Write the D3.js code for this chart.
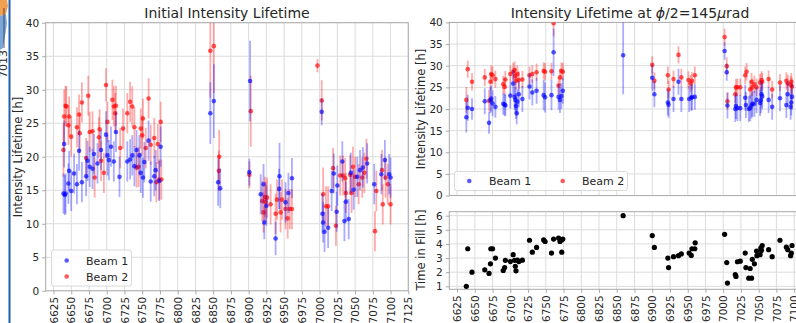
<!DOCTYPE html>
<html><head><meta charset="utf-8">
<script src="https://cdn.jsdelivr.net/npm/d3@7"></script>
<style>
html,body{margin:0;padding:0;background:#fff;overflow:hidden;}
text{font-family:"DejaVu Sans",sans-serif;fill:#262626;}
</style></head><body>
<svg id="c" width="796" height="323"></svg>
<script>
// ---- data: [fill, value, error] ----
const leftBeam1 = [[6639,14.5,3],[6640,21.9,3.5],[6641,14.3,3],[6642,14.5,3],[6646,16.0,3],[6647,17.9,3],[6650,14.9,3],[6654,17.5,3],[6658,15.9,3],[6661,20.9,3],[6665,16.2,3],[6671,17.1,3],[6673,19.4,3],[6676,18.5,3],[6680,18.2,3],[6682,20.4,3],[6687,19.0,3],[6692,21.0,3],[6699,23.3,3.5],[6701,20.2,3],[6703,19.5,3],[6706,21.5,3],[6710,19.3,3],[6713,23.7,3],[6718,17.0,3],[6729,19.3,3],[6733,19.6,3],[6736,20.2,3],[6739,18.6,3],[6742,21.0,3],[6746,20.2,3],[6748,17.6,3],[6751,16.9,3],[6753,19.2,3],[6759,22.4,3],[6762,16.3,3],[6767,17.1,3],[6769,18.0,3],[6774,16.4,3],[6776,21.5,3],
[6846,26.5,4.6],[6851,28.3,5.5],[6857,16.2,3.5],[6860,15.3,3],[6901,17.7,2],[6902,31.3,6],[6917,14.4,3],[6921,15.9,3],[6922,10.2,2.5],[6925,12.7,3],[6938,7.8,2.5],[6943,15.2,3],[6943.5,17.1,5],[6952,13.2,3],[6956,14.6,3],[6961,16.8,3],
[7003,26.7,2],[7004,11.5,3],[7005,10.2,3],[7007,8.8,3],[7012,9.4,3],[7017,14.9,3],[7020,17.5,3],[7024,11.8,3],[7025,15.7,3],[7032,19.3,3],[7035,10.4,3],[7037,13.3,3],[7041,10.7,3],[7044,17.6,3],[7048,15.1,3],[7053,17.0,3],[7057,18.0,3],[7061,18.4,3],[7067,19.0,3],[7077,15.9,3],[7087,17.4,3],[7092,19.5,3],[7098,17.4,3],[7100,16.9,3]];
const leftBeam2 = [[6639,21.0,4],[6640,26.0,4],[6642,27.6,3],[6643,27.5,3],[6646,24.7,3],[6647,26.0,3],[6650,23.0,3],[6658,24.4,3],[6661,26.3,3],[6662,23.5,3],[6665,28.1,3],[6671,19.8,3],[6674,29.1,3],[6676,23.7,3],[6680,23.8,3],[6683,16.9,3],[6689,22.9,3],[6690,24.1,3],[6692,19.4,3],[6696,17.6,3],[6699,30.7,2.5],[6701,25.2,3],[6708,28.5,3],[6710,27.5,3],[6712,26.5,3],[6713,27.6,3],[6719,21.3,3],[6723,24.2,3],[6729,26.5,3],[6733,28.2,3],[6736,27.5,3],[6739,24.4,3],[6742,18.4,3],[6745,18.5,3],[6748,24.2,3],[6750,23.2,3],[6751,25.7,3],[6755,21.3,3],[6759,28.7,3],[6762,21.8,3],[6767,22.8,3],[6770,16.2,3],[6772,21.9,3],[6774,16.6,3],[6776,25.2,3],[6777,16.6,3],
[6846,35.8,7],[6851,36.5,7],[6858,17.9,3],[6858.5,20.0,4],[6901,17.3,2],[6903,26.8,5.3],[6919,13.4,3],[6921,11.7,3],[6923,14.0,3],[6924,13.3,3],[6926,13.9,3],[6931,12.9,3],[6938,11.5,3],[6940,13.6,3],[6945,11.7,3],[6947,13.6,3],[6952,12.2,3],[6955,10.8,3],[6958,12.2,3],[6961,12.2,3],
[6997,33.6,1],[7003,28.4,3],[7005,14.4,4],[7009,12.6,3],[7012,12.6,3],[7019,18.3,3],[7023,9.7,3],[7029,17.2,3],[7033,17.2,3],[7036,16.8,3],[7037,14.6,3],[7043,17.3,3],[7045,14.6,3],[7047,18.5,3],[7050,17.0,3],[7055,15.9,3],[7060,16.9,3],[7063,17.6,3],[7066,19.7,3],[7078,8.9,3],[7080,14.9,3],[7088,18.0,3],[7089,12.9,3],[7093,16.9,3],[7096,15.9,3],[7100,12.9,3]];
const rightBeam1 = [[6638,18.1,3.5],[6640,20.3,3],[6646,20.0,2.5],[6664,21.8,3],[6670,16.8,2.5],[6672,22.0,3],[6673,22.4,3],[6675,21.3,3],[6679,20.5,2.5],[6690,21.2,2.5],[6692,21.0,2.5],[6693,20.8,2.5],[6700,23.1,3],[6704,25.9,3],[6706,22.8,3],[6707,22.1,3],[6708,20.7,3],[6709,19.0,2.5],[6710,21.7,3],[6712,23.4,3],[6717,22.3,3],[6727,25.2,3],[6731,23.8,3],[6737,24.2,3],[6747,23.2,3.5],[6749,22.7,3.5],[6758,23.2,3.5],[6761,33.1,5.5],[6768,22.8,3],[6770,22.1,3],[6772,23.0,3],[6774,24.2,3],
[6859,32.4,9],[6900,27.2,3],[6903,23.4,3],[6922,21.5,3],[6923,21.0,3],[6930,22.3,3],[6937,26.3,3],[6941,22.3,3],[6952,22.3,3],[6955,22.6,3],[6956,22.7,3],[6960,22.8,3],
[7002,33.4,2],[7005,28.5,2],[7006,20.8,3],[7017,20.0,3],[7018,20.7,3],[7020,20.2,3],[7024,20.2,3],[7031,22.6,3],[7032,20.9,3],[7036,20.0,3],[7038,20.2,3],[7040,20.8,3],[7041,21.2,3],[7044,21.2,3],[7047,22.1,3],[7052,21.4,3],[7053,22.0,3],[7054,23.4,3],[7055,22.9,3],[7064,22.1,3],[7069,20.5,3],[7080,22.5,3],[7089,20.9,3],[7091,23.4,3],[7095,20.5,3],[7096,21.5,3],[7097,22.8,3]];
const rightBeam2 = [[6638,22.1,3],[6640,29.2,2],[6646,26.3,2],[6664,27.3,2],[6670,21.9,2.5],[6672,26.3,2],[6673,28.1,2],[6675,27.8,2],[6679,26.9,2],[6690,25.7,2],[6692,25.1,2],[6693,26.8,2],[6700,28.1,2],[6704,28.6,2],[6706,29.0,2],[6707,27.6,2],[6708,26.5,2],[6710,28.1,2],[6712,26.7,2],[6717,26.8,2],[6727,27.8,2],[6731,28.1,2],[6737,28.5,2],[6747,28.8,2],[6749,28.6,2],[6758,28.7,2],[6761,39.8,3],[6768,25.4,2],[6770,27.3,2],[6772,28.8,2],[6774,28.6,2],
[6900,30.2,2],[6903,26.5,2],[6922,27.8,2],[6923,24.5,2],[6930,26.9,2],[6937,32.5,2],[6941,27.3,2],[6951,26.7,2],[6954,25.9,2],[6956,26.5,2],[6960,27.8,2],
[7002,36.6,2],[7005,29.9,2],[7006,21.8,2],[7017,23.4,2],[7018,25.0,2],[7020,25.0,2],[7024,25.0,2],[7031,27.8,2],[7033,28.6,2],[7038,24.5,2],[7040,26.3,2],[7041,25.0,2],[7044,25.7,2],[7047,25.0,2],[7052,26.1,2],[7054,26.7,2],[7055,26.3,2],[7064,26.9,2],[7069,24.5,2],[7080,26.1,2],[7089,26.5,2],[7091,25.9,2],[7095,25.6,2],[7096,26.3,2],[7097,25.2,2]];
// [fill, hours]
const timeInFill = [[6638,1.0],[6640,3.66],[6646,2.0],[6664,2.17],[6670,1.91],[6672,2.59],[6672.5,3.66],[6675,3.66],[6679,3.0],[6690,2.12],[6692,2.33],[6693,2.84],[6700,2.75],[6704,3.24],[6706,2.84],[6707,2.42],[6708,2.1],[6710,2.85],[6712,2.75],[6717,2.85],[6727,4.26],[6731,3.42],[6737,3.75],[6747,4.28],[6749,4.17],[6758,3.35],[6761,4.34],[6768,4.42],[6770,4.17],[6772,4.28],[6774,4.34],[6772.5,3.42],
[6859,6.0],[6900,4.59],[6903,3.75],[6922,3.0],[6923,2.33],[6930,3.1],[6937,3.17],[6941,3.29],[6952,3.35],[6955,3.19],[6956,3.66],[6960,3.66],[6960.5,4.08],
[7002,4.68],[7005,2.68],[7006,1.23],[7017,1.83],[7018,1.7],[7020,2.74],[7024,2.78],[7031,3.35],[7032,2.33],[7038,2.26],[7036,1.58],[7040,1.58],[7041,2.91],[7044,2.59],[7047,3.5],[7047.5,3.17],[7052,3.24],[7053,3.7],[7054,3.54],[7055,3.89],[7064,3.59],[7069,3.1],[7080,4.26],[7089,3.77],[7091,3.59],[7095,3.17],[7096,3.35],[7097,3.89]];
const xTicks = d3.range(6625, 7126, 25);
const yTicksLife = [0,5,10,15,20,25,30,35,40];
const yTicksTime = [1,2,3,4,5,6];
const titleLeft = "Initial Intensity Lifetime";
const legendLabels = ["Beam 1","Beam 2"];

// ---- drawing ----
const svg = d3.select("#c");
const C1 = "#0000ff", C2 = "#ff0000";
const GRID = "#dcdcdc", FRAME = "#a8a8a8";

// slide fragments at far left
svg.append("path").attr("d","M0,0 L7,0 L8,6 L6,14 L0,16 Z").attr("fill","#f0a050");
svg.append("path").attr("d","M0,16 L6,14 L7,24 L5,36 L3,48 L0,50 Z").attr("fill","#7aa6dc");
svg.append("line").attr("x1",4).attr("x2",4).attr("y1",8).attr("y2",48).attr("stroke","#333").attr("stroke-width",0.8);
svg.append("text").attr("transform","translate(7,78) rotate(-90)").attr("font-size",11).text("7013");
svg.append("line").attr("x1",9.5).attr("x2",9.5).attr("y1",0).attr("y2",323).attr("stroke","#1f5fb0").attr("stroke-width",2);

const xDom = [6614, 7125];
function makeAxes(id, x0, x1, yTop, yBot, yDom, yTicks, showX) {
  const x = d3.scaleLinear().domain(xDom).range([x0, x1]);
  const y = d3.scaleLinear().domain(yDom).range([yBot, yTop]);
  const g = svg.append("g");
  svg.append("clipPath").attr("id", id).append("rect")
    .attr("x", x0).attr("y", yTop).attr("width", x1 - x0).attr("height", yBot - yTop);
  const gg = g.append("g").attr("clip-path", `url(#${id})`);
  gg.selectAll(".gx").data(xTicks).join("line")
    .attr("x1", d => x(d)).attr("x2", d => x(d)).attr("y1", yTop).attr("y2", yBot)
    .attr("stroke", GRID).attr("stroke-width", 1);
  gg.selectAll(".gy").data(yTicks).join("line")
    .attr("x1", x0).attr("x2", x1).attr("y1", d => y(d)).attr("y2", d => y(d))
    .attr("stroke", GRID).attr("stroke-width", 1);
  const ya = g.append("g").attr("transform", `translate(${x0},0)`)
    .call(d3.axisLeft(y).tickValues(yTicks).tickFormat(d3.format("d")).tickSize(3.5).tickPadding(3));
  ya.select(".domain").remove();
  ya.selectAll("line").attr("stroke", FRAME);
  ya.selectAll("text").attr("font-size", 10.5).attr("font-family", "DejaVu Sans").attr("fill", "#262626");
  if (showX) {
    const xa = g.append("g").attr("transform", `translate(0,${yBot})`)
      .call(d3.axisBottom(x).tickValues(xTicks).tickFormat(d3.format("d")).tickSize(3.5).tickPadding(3));
    xa.select(".domain").remove();
    xa.selectAll("line").attr("stroke", FRAME);
    xa.selectAll("text").attr("font-size", 10.5).attr("font-family", "DejaVu Sans").attr("fill", "#262626")
      .attr("transform", "rotate(-90)").attr("text-anchor", "end").attr("dy", "0.35em")
      .attr("x", -6).attr("y", 0);
  }
  g.append("rect").attr("x", x0).attr("y", yTop).attr("width", x1 - x0).attr("height", yBot - yTop)
    .attr("fill", "none").attr("stroke", FRAME).attr("stroke-width", 1);
  const data = svg.append("g").attr("clip-path", `url(#${id})`);
  return {x, y, g, data};
}

function drawSeries(ax, arr, color) {
  const s = ax.data.append("g");
  s.selectAll("line").data(arr).join("line")
    .attr("x1", d => ax.x(d[0])).attr("x2", d => ax.x(d[0]))
    .attr("y1", d => ax.y(d[1] - d[2])).attr("y2", d => ax.y(d[1] + d[2]))
    .attr("stroke", color).attr("stroke-opacity", 0.33).attr("stroke-width", 1.8);
  s.selectAll("circle").data(arr).join("circle")
    .attr("cx", d => ax.x(d[0])).attr("cy", d => ax.y(d[1])).attr("r", 2.3)
    .attr("fill", color).attr("fill-opacity", 0.65);
}

// left panel
const L = makeAxes("clipL", 45.7, 408.3, 22.7, 290.8, [0, 40], yTicksLife, true);
drawSeries(L, leftBeam2, C2);
drawSeries(L, leftBeam1, C1);
svg.append("text").attr("x", 227).attr("y", 18).attr("text-anchor", "middle").attr("font-size", 14).text(titleLeft);
svg.append("text").attr("transform", "translate(22,157) rotate(-90)").attr("text-anchor", "middle").attr("font-size", 11.5).text("Intensity Lifetime [h]");
const lg = svg.append("g");
lg.append("rect").attr("x", 51.5).attr("y", 250).attr("width", 80).attr("height", 36).attr("rx", 2)
  .attr("fill", "#fff").attr("fill-opacity", 0.8).attr("stroke", "#d8d8d8");
[[C1, 260.5], [C2, 276.5]].forEach((c, i) => {
  lg.append("circle").attr("cx", 66.7).attr("cy", c[1]).attr("r", 2.3).attr("fill", c[0]).attr("fill-opacity", 0.65);
  lg.append("text").attr("x", 86).attr("y", c[1] + 4).attr("font-size", 11).text(legendLabels[i]);
});

// right top panel
const R = makeAxes("clipR", 449.3, 811.9, 22.4, 195.6, [0, 40], yTicksLife, false);
drawSeries(R, rightBeam2, C2);
drawSeries(R, rightBeam1, C1);
const rt = svg.append("text").attr("x", 630).attr("y", 18).attr("text-anchor", "middle").attr("font-size", 14);
rt.append("tspan").text("Intensity Lifetime at ");
rt.append("tspan").attr("font-style", "italic").text("ϕ");
rt.append("tspan").text("/2=145");
rt.append("tspan").attr("font-style", "italic").text("μ");
rt.append("tspan").text("rad");
svg.append("text").attr("transform", "translate(425,109) rotate(-90)").attr("text-anchor", "middle").attr("font-size", 11.5).text("Intensity Lifetime [h]");
const rg = svg.append("g");
rg.append("rect").attr("x", 454.5).attr("y", 171.5).attr("width", 173).attr("height", 19).attr("rx", 2)
  .attr("fill", "#fff").attr("fill-opacity", 0.8).attr("stroke", "#d8d8d8");
[[C1, 469.3, 489], [C2, 562.7, 582]].forEach((c, i) => {
  rg.append("circle").attr("cx", c[1]).attr("cy", 181).attr("r", 2.3).attr("fill", c[0]).attr("fill-opacity", 0.65);
  rg.append("text").attr("x", c[2]).attr("y", 185).attr("font-size", 11).text(legendLabels[i]);
});

// right bottom panel
const B = makeAxes("clipB", 449.3, 811.9, 211.7, 289.3, [0.79, 6.28], yTicksTime, true);
B.data.selectAll("circle").data(timeInFill).join("circle")
  .attr("cx", d => B.x(d[0])).attr("cy", d => B.y(d[1])).attr("r", 2.6).attr("fill", "#000");
svg.append("text").attr("transform", "translate(425,250) rotate(-90)").attr("text-anchor", "middle").attr("font-size", 11.5).text("Time in Fill [h]");
</script></body></html>
